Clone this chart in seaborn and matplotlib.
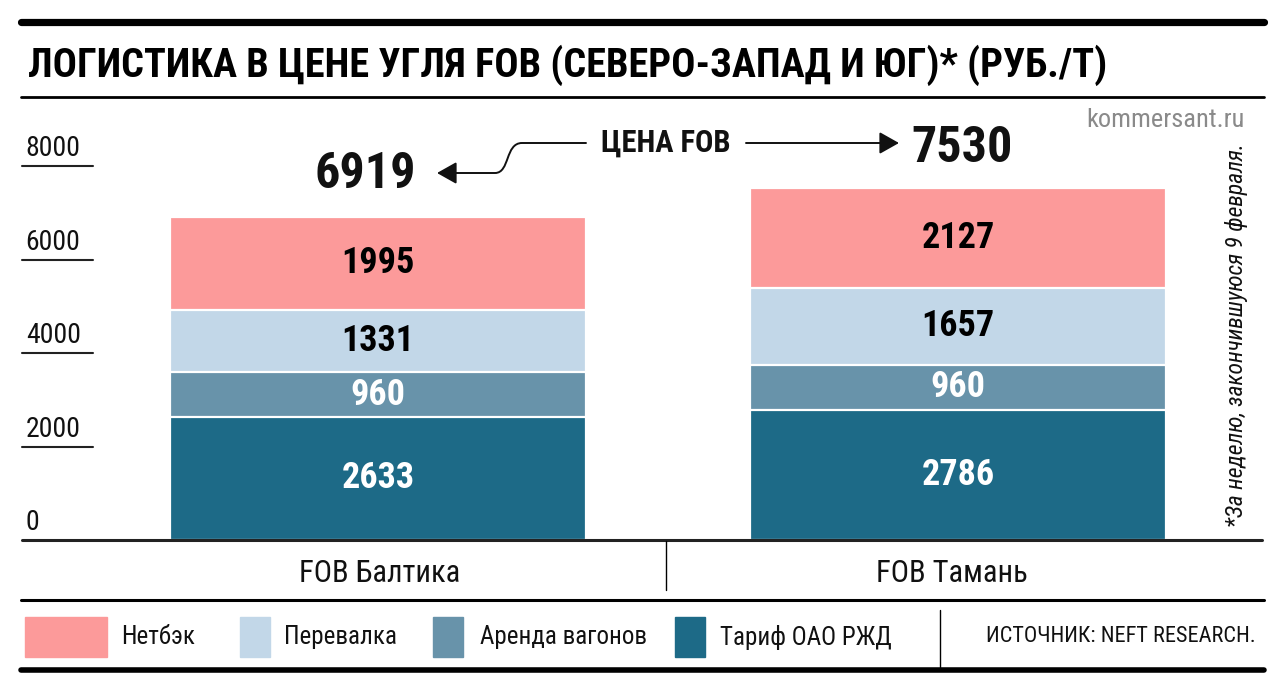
"""Логистика в цене угля FOB: составной столбик по двум направлениям."""

import matplotlib.pyplot as plt
import numpy as np
import pandas as pd
import seaborn as sns
from matplotlib.patches import FancyArrowPatch, Rectangle, ArrowStyle
from matplotlib.path import Path
from matplotlib.lines import Line2D


categories = ["FOB Балтика", "FOB Тамань"]
tariff = [2633, 2786]
wagons = [960, 960]
transship = [1331, 1657]
netback = [1995, 2127]
fob_price = [6919, 7530]

layer_names = ["Нетбэк", "Перевалка", "Аренда вагонов", "Тариф ОАО РЖД"]
layer_colors = ["#FC9A9A", "#C2D7E8", "#6893AA", "#1D6A87"]
label_colors = ["black", "black", "white", "white"]
y_ticks = [0, 2000, 4000, 6000, 8000]

W, H = 1280, 691
COND = ["Roboto Condensed", "Liberation Sans Narrow", "DejaVu Sans"]


def px(x, y):
    return x / W, 1 - y / H


sns.set_theme(style="white")
plt.rcParams["font.family"] = COND

fig = plt.figure(figsize=(W / 100, H / 100), dpi=100)
ax = fig.add_axes([22 / W, (H - 540) / H, 1240 / W, (540 - 97) / H])

# снизу вверх: тариф, аренда, перевалка, нетбэк
values = [tariff, wagons, transship, netback]
stack = np.cumsum(np.array(values), axis=0)
for i in range(3, -1, -1):
    df = pd.DataFrame({"category": categories, "height": stack[i]})
    sns.barplot(
        data=df, x="category", y="height", color=layer_colors[3 - i],
        saturation=1, width=0.717, edgecolor="white", linewidth=1.6,
        errorbar=None, ax=ax,
    )

for i, vals in enumerate(values):
    for j, v in enumerate(vals):
        ax.text(j, stack[i][j] - v / 2, f"{v}", ha="center", va="center",
                fontsize=26, fontweight="bold", color=label_colors[3 - i])

ax.set_xlim(-0.6138, 1.5241)
ax.set_ylim(0, 9481)
ax.set_axis_off()
ax.axhline(0, color="#222222", lw=2.2, clip_on=False, zorder=5)

for t in y_ticks:
    ax.annotate(f"{t}", xy=(0.003, t), xycoords=ax.get_yaxis_transform(),
                xytext=(0, 4), textcoords="offset pixels", ha="left",
                va="bottom", fontsize=20, color="#111111")
    if t > 0:
        ax.plot([0, 0.057], [t, t], transform=ax.get_yaxis_transform(),
                color="#222222", lw=1.5, clip_on=False)

# цена FOB над столбиками
fig.text(*px(416, 175), f"{fob_price[0]}", ha="right", va="center",
         fontsize=36, fontweight="bold", color="#111111")
fig.text(*px(911, 148), f"{fob_price[1]}", ha="left", va="center",
         fontsize=36, fontweight="bold", color="#111111")
fig.text(*px(666, 143), "ЦЕНА FOB", ha="center", va="center", fontsize=22,
         fontweight="bold", color="#111111")

head = ArrowStyle("-|>", head_length=0.8, head_width=0.45)
left_path = Path(
    [px(586, 143), px(522, 143), px(505, 143), px(510, 173), px(495, 173),
     px(437, 173)],
    [Path.MOVETO, Path.LINETO, Path.CURVE4, Path.CURVE4, Path.CURVE4,
     Path.LINETO],
)
right_path = Path([px(746, 143), px(899, 143)], [Path.MOVETO, Path.LINETO])
for p in (left_path, right_path):
    arrow = FancyArrowPatch(path=p, arrowstyle=head, mutation_scale=15,
                            color="#111111", lw=1.4, transform=fig.transFigure)
    fig.add_artist(arrow)

# заголовок и рамки
fig.text(*px(28, 65), "ЛОГИСТИКА В ЦЕНЕ УГЛЯ FOB (СЕВЕРО-ЗАПАД И ЮГ)* (РУБ./Т)",
         ha="left", va="center", fontsize=29, fontweight="heavy", color="black")
fig.text(*px(1245, 120), "kommersant.ru", ha="right", va="center",
         fontsize=19, color="#8a8a8a")
fig.text(*px(1237, 335), "*За неделю, закончившуюся 9 февраля.", rotation=90,
         ha="center", va="center", fontsize=17, style="italic", color="#111111")


def hline(y, x0, x1, lw, color="black"):
    fig.add_artist(Line2D([x0 / W, x1 / W], [1 - y / H, 1 - y / H],
                          lw=lw, color=color, transform=fig.transFigure))


def vline(x, y0, y1, lw=1.0):
    fig.add_artist(Line2D([x / W, x / W], [1 - y0 / H, 1 - y1 / H],
                          lw=lw, color="black", transform=fig.transFigure))


hline(22, 21, 1264, 5.2)
hline(97, 21, 1264, 2.0)
hline(600, 21, 1264, 2.2)
hline(670, 21, 1264, 4.0)
vline(666, 541, 590)
vline(940, 610, 668)

for name, cx in zip(categories, [380, 952]):
    fig.text(*px(cx, 573), name, ha="center", va="center", fontsize=22,
             color="#111111")

# легенда
swatches = [(25, 107), (240, 270), (433, 463), (675, 705)]
label_x = [121, 284, 480, 720]
for (x0, x1), lx, name, color in zip(swatches, label_x, layer_names, layer_colors):
    fig.add_artist(Rectangle(px(x0, 657), (x1 - x0) / W, 40 / H, color=color,
                             transform=fig.transFigure))
    fig.text(*px(lx, 637), name, ha="left", va="center", fontsize=18,
             color="#111111")
fig.text(*px(1256, 637), "ИСТОЧНИК: NEFT RESEARCH.", ha="right", va="center",
         fontsize=16, color="#111111")

fig.savefig("out.png", dpi=100, facecolor="white")
